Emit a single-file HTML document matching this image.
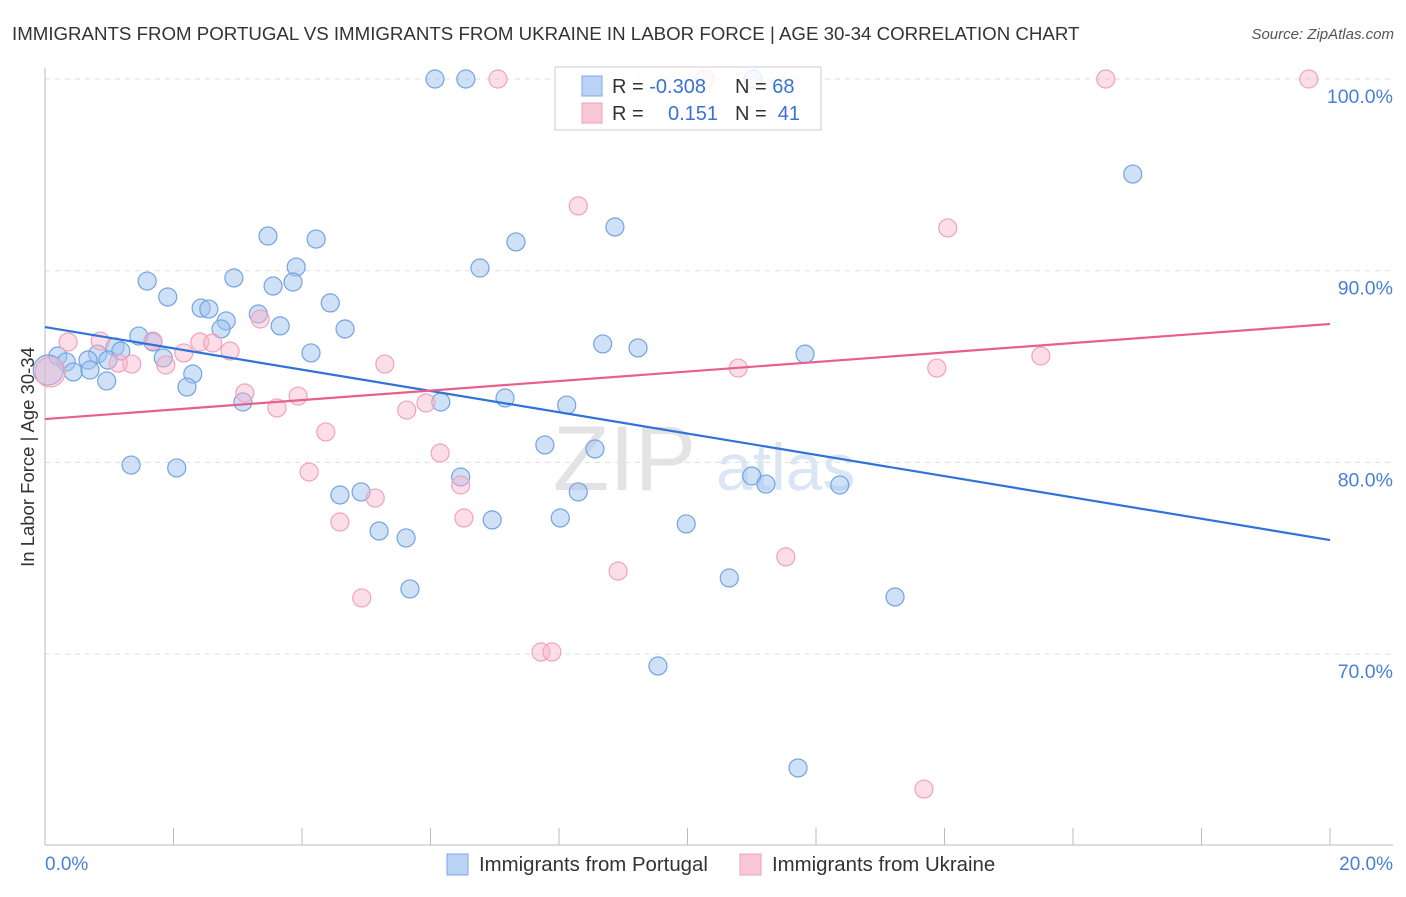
<!DOCTYPE html>
<html><head><meta charset="utf-8"><style>
body{margin:0;background:#fff;font-family:"Liberation Sans",sans-serif;}
svg text{font-family:"Liberation Sans",sans-serif;}
</style></head><body>
<svg width="1406" height="892" xmlns="http://www.w3.org/2000/svg">
<text x="12" y="40" font-size="18.7" fill="#333">IMMIGRANTS FROM PORTUGAL VS IMMIGRANTS FROM UKRAINE IN LABOR FORCE | AGE 30-34 CORRELATION CHART</text>
<text x="1394" y="39" font-size="15" fill="#555" text-anchor="end" font-style="italic">Source: ZipAtlas.com</text>
<g id="grid"></g>
<text x="553" y="490" font-size="92" fill="#e3e3e3" font-family="Liberation Serif">ZIP</text>
<text x="716" y="490" font-size="66" fill="#dbe6f5">atlas</text>
<g id="pts"></g>
<g id="lines"></g>
<text transform="translate(34,457) rotate(-90)" font-size="18.5" fill="#333" text-anchor="middle">In Labor Force | Age 30-34</text>
<text x="45" y="870" font-size="19" fill="#4a7fd6">0.0%</text>
<text x="1393" y="870" font-size="19" fill="#4a7fd6" text-anchor="end">20.0%</text>
<g>
<rect x="555" y="67" width="266" height="63" fill="#fff" fill-opacity="0.8" stroke="#ccc"/>
<rect x="582" y="76" width="20" height="20" fill="#b9d3f5" stroke="#7fa8e6"/>
<rect x="582" y="103" width="20" height="20" fill="#f9c6d5" stroke="#f0a0b8"/>
<text x="612" y="93" font-size="20" fill="#333">R = <tspan fill="#3a72d4">-0.308</tspan></text>
<text x="735" y="93" font-size="20" fill="#333">N = <tspan fill="#3a72d4">68</tspan></text>
<text x="612" y="120" font-size="20" fill="#333">R = </text>
<text x="668" y="120" font-size="20" fill="#3a72d4">0.151</text>
<text x="735" y="120" font-size="20" fill="#333">N = <tspan fill="#3a72d4">&#160;41</tspan></text>
</g>
<g>
<rect x="447" y="854" width="21" height="21" fill="#b9d3f5" stroke="#7fa8e6"/>
<text x="479" y="871" font-size="20.4" fill="#333">Immigrants from Portugal</text>
</g>
<g>
<rect x="740" y="854" width="21" height="21" fill="#f9c6d5" stroke="#f0a0b8"/>
<text x="772" y="871" font-size="20.4" fill="#333">Immigrants from Ukraine</text>
</g>
</svg>
<script>
const yTicks=[100,90,80,70];
const yTickLabels=["100.0%","90.0%","80.0%","70.0%"];
const xTicks=[0,2,4,6,8,10,12,14,16,18,20];
const portugalX=[6.07,6.55,11.02,16.93,3.47,4.22,8.87,7.33,6.77,3.91,1.59,2.94,3.86,3.55,1.91,4.44,2.43,2.55,3.32,2.82,3.66,2.74,4.67,1.46,1.68,1.09,8.68,9.23,11.83,1.18,0.82,4.14,1.84,0.20,0.98,0.33,0.67,0.44,0.70,2.30,0.96,2.21,7.16,3.08,6.16,8.12,7.78,8.56,1.34,2.05,6.47,11.00,11.22,12.37,4.59,4.92,8.30,8.02,6.96,9.98,5.20,5.62,10.65,13.23,5.68,9.54,11.72,0.05];
const portugalY=[100,100,100,95.04,91.81,91.65,92.28,91.50,90.14,90.19,89.46,89.62,89.41,89.20,88.63,88.32,88.05,88.0,87.74,87.38,87.12,86.96,86.96,86.59,86.28,86.02,86.18,85.97,85.65,85.81,85.65,85.71,85.45,85.55,85.34,85.24,85.34,84.72,84.82,84.61,84.25,83.93,83.36,83.15,83.15,82.99,80.91,80.70,79.86,79.71,79.24,79.29,78.87,78.82,78.30,78.46,78.46,77.10,77.0,76.79,76.42,76.06,73.97,72.98,73.40,69.38,64.06,84.82];
const ukraineX=[7.05,10.27,16.51,19.67,8.30,14.05,3.35,0.36,1.68,2.41,2.61,2.88,2.16,0.86,1.35,1.14,1.88,5.29,10.79,13.88,15.50,3.11,3.94,3.61,5.63,5.93,4.37,6.15,4.11,6.47,5.14,4.59,6.52,11.53,8.92,4.93,7.72,7.89,13.68,0.08];
const ukraineY=[100,100,100,100,93.38,92.23,87.48,86.28,86.33,86.28,86.23,85.81,85.71,86.33,85.13,85.18,85.08,85.13,84.92,84.92,85.55,83.62,83.46,82.84,82.73,83.10,81.59,80.49,79.50,78.82,78.14,76.89,77.10,75.07,74.33,72.93,70.11,70.11,62.96,84.72];
const bigX=[0.05,0.08];
const portugalTrend=[87.06,75.95];
const ukraineTrend=[82.26,87.22];
const NS="http://www.w3.org/2000/svg";
const sx=v=>45+v/20*1285;
const sy=v=>79+(100-v)*19.17;
function mk(tag,attrs,parent){const e=document.createElementNS(NS,tag);for(const k in attrs)e.setAttribute(k,attrs[k]);parent.appendChild(e);return e;}
const grid=document.getElementById('grid'),pts=document.getElementById('pts'),lines=document.getElementById('lines');
yTicks.forEach((t,i)=>{
 const l=mk('line',{x1:45,x2:1393,y1:sy(t),y2:sy(t),stroke:'#ddd','stroke-dasharray':'5,5'},grid);
 
 
 const tx=mk('text',{x:1393,y:sy(t)+24,'font-size':19.5,fill:'#4a7fd6','text-anchor':'end'},grid);
 tx.textContent=yTickLabels[i];
 
 
});
const ax=mk('line',{x1:45,x2:45,y1:68,y2:845,stroke:'#bbb'},grid);


const bx=mk('line',{x1:45,x2:1393,y1:845,y2:845,stroke:'#bbb'},grid);


xTicks.forEach(t=>{
 const l=mk('line',{x1:sx(t),x2:sx(t),y1:828,y2:845,stroke:'#bbb'},grid);
 
 
});
function drawPts(X,Y,fill,stroke,name){
 X.forEach((x,i)=>{
  const r=bigX.includes(x)?15:9;
  const c=mk('circle',{cx:sx(x),cy:sy(Y[i]),r:r,fill:fill,stroke:stroke,'stroke-width':1.2},pts);
  
  
 });
}
drawPts(portugalX,portugalY,'rgba(160,195,240,0.5)','#74a3e2','portugal-point');
drawPts(ukraineX,ukraineY,'rgba(247,182,202,0.45)','#f0a3bb','ukraine-point');
const l1=mk('line',{x1:sx(0),x2:sx(20),y1:sy(portugalTrend[0]),y2:sy(portugalTrend[1]),stroke:'#2f72d8','stroke-width':2.2},lines);


const l2=mk('line',{x1:sx(0),x2:sx(20),y1:sy(ukraineTrend[0]),y2:sy(ukraineTrend[1]),stroke:'#e8608a','stroke-width':2.2},lines);


</script>
</body></html>
